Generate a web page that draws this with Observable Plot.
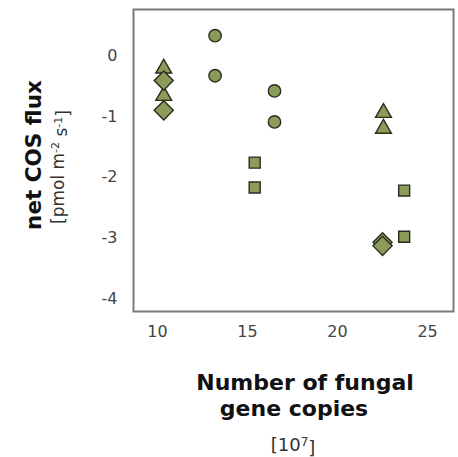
<!DOCTYPE html>
<html><head><meta charset="utf-8">
<script src="https://cdn.jsdelivr.net/npm/d3@7"></script>
<script src="https://cdn.jsdelivr.net/npm/@observablehq/plot@0.6"></script>
<style>
body{margin:0;background:#fff}
svg{display:block}
</style>
</head><body><div id="chart"></div>
<script>
// Fungal gene copies (×10^7) vs. net COS flux, one symbol per site group
const copies = [10.35, 10.35, 10.35, 10.35, 13.2, 13.2, 16.5, 16.5, 15.4, 15.4, 22.55, 22.55, 23.7, 23.7, 22.5, 22.5];
const flux   = [-0.21, -0.41, -0.66, -0.9, 0.33, -0.33, -0.58, -1.09, -1.76, -2.17, -0.94, -1.2, -2.22, -2.98, -3.07, -3.13];
const shapes = ["triangle", "diamond2", "triangle", "diamond2", "circle", "circle", "circle", "circle",
                "square", "square", "triangle", "triangle", "square", "square", "diamond2", "diamond2"];
const xTicks = [10, 15, 20, 25];
const yTicks = [0, -1, -2, -3, -4];

const rows = copies.map((c, i) => ({copies: c, flux: flux[i], shape: shapes[i]}));
// rotated squares read smaller than the other symbols at equal area, so give them a larger radius
const sizeOf = s => s === "diamond2" ? 8.6 : s === "triangle" ? 5.9 : 6.2;

const font = "DejaVu Sans";
const W = 458, H = 457;
const plot = Plot.plot({
  width: W, height: H,
  marginLeft: 133, marginRight: 5, marginTop: 9, marginBottom: 146,
  style: {fontFamily: font, fontSize: "16px", color: "#444", background: "#fff"},
  x: {domain: [8.67, 26.44], ticks: xTicks, tickSize: 0, tickPadding: 14, label: null, tickFormat: d => String(d)},
  y: {domain: [-4.21, 0.76], ticks: yTicks, tickSize: 0, tickPadding: 16, label: null, tickFormat: d => String(d)},
  symbol: {type: "identity"},
  marks: [
    Plot.frame({stroke: "#7a7a7a", strokeWidth: 2}),
    ...["triangle", "diamond2", "circle", "square"].map(s =>
      Plot.dot(rows.filter(d => d.shape === s), {x: "copies", y: "flux", symbol: "shape", r: sizeOf(s),
                      fill: "#8b9b5a", stroke: "#2b2b1e", strokeWidth: 1.4}))
  ]
});
document.getElementById("chart").appendChild(plot);

const svg = d3.select(plot);

// y-axis title: bold line plus unit line with superscripts
const yt = svg.append("g").attr("font-family", font).attr("fill", "#111").attr("text-anchor", "middle");
yt.append("text").attr("transform", "translate(33,155) rotate(-90)")
  .attr("font-size", 21.5).attr("font-weight", "bold").attr("dy", "0.35em").text("net COS flux");
const yu = yt.append("text").attr("transform", "translate(58,167) rotate(-90)")
  .attr("font-size", 17).attr("dy", "0.35em").attr("fill", "#333");
yu.append("tspan").text("[pmol m");
yu.append("tspan").attr("dy", "-0.45em").attr("font-size", 11).text("-2");
yu.append("tspan").attr("dy", "0.45em").text(" s");
yu.append("tspan").attr("dy", "-0.45em").attr("font-size", 11).text("-1");
yu.append("tspan").attr("dy", "0.45em").text("]");

// x-axis title
const xt = svg.append("g").attr("font-family", font).attr("fill", "#111").attr("text-anchor", "middle");
xt.append("text").attr("x", 305).attr("y", 382).attr("dy", "0.35em")
  .attr("font-size", 22).attr("font-weight", "bold").text("Number of fungal");
xt.append("text").attr("x", 294).attr("y", 408).attr("dy", "0.35em")
  .attr("font-size", 22).attr("font-weight", "bold").text("gene copies");
const xu = xt.append("text").attr("x", 293).attr("y", 445).attr("dy", "0.35em")
  .attr("font-size", 18).attr("fill", "#333");
xu.append("tspan").text("[10");
xu.append("tspan").attr("dy", "-0.45em").attr("font-size", 12).text("7");
xu.append("tspan").attr("dy", "0.45em").text("]");
</script>
</body></html>
